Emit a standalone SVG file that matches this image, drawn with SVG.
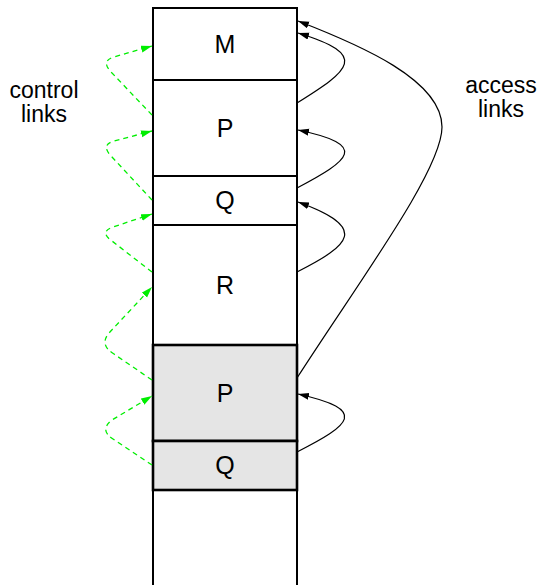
<svg xmlns="http://www.w3.org/2000/svg" width="542" height="585" viewBox="0 0 542 585">
  <style>
    .frame { fill: #ffffff; stroke: #000000; stroke-width: 2; }
    .cur { fill: #e5e5e5; stroke: #000000; stroke-width: 2.6; }
    .lbl { font-family: "Liberation Sans", Arial, sans-serif; font-size: 25px; fill: #000000; text-anchor: middle; }
    .side { font-family: "Liberation Sans", Arial, sans-serif; font-size: 23px; fill: #000000; text-anchor: middle; }
    .ctl { fill: none; stroke: #00ee00; stroke-width: 1.3; stroke-dasharray: 5 4; marker-end: url(#ga); }
    .acc { fill: none; stroke: #000000; stroke-width: 1.2; marker-end: url(#ba); }
  </style>
  <defs>
    <marker id="ga" markerUnits="userSpaceOnUse" markerWidth="12" markerHeight="8" refX="11" refY="3.5" orient="auto">
      <path d="M0,0 L11,3.5 L0,7 z" fill="#00ee00"/>
    </marker>
    <marker id="ba" markerUnits="userSpaceOnUse" markerWidth="12" markerHeight="8" refX="11" refY="3.5" orient="auto">
      <path d="M0,0 L11,3.5 L0,7 z" fill="#000000"/>
    </marker>
  </defs>
  <rect x="0" y="0" width="542" height="585" fill="#ffffff"/>

  <g id="frame-empty">
    <rect class="frame" x="153" y="490" width="144" height="120"/>
  </g>
  <g id="frame-M">
    <rect class="frame" x="153" y="8" width="144" height="72"/>
    <text class="lbl" x="225" y="53">M</text>
  </g>
  <g id="frame-P1">
    <rect class="frame" x="153" y="80" width="144" height="96"/>
    <text class="lbl" x="225" y="137">P</text>
  </g>
  <g id="frame-Q1">
    <rect class="frame" x="153" y="176" width="144" height="49"/>
    <text class="lbl" x="225" y="209">Q</text>
  </g>
  <g id="frame-R">
    <rect class="frame" x="153" y="225" width="144" height="120"/>
    <text class="lbl" x="225" y="294">R</text>
  </g>
  <g id="frame-P2">
    <rect class="cur" x="153" y="345" width="144" height="96"/>
    <text class="lbl" x="225" y="402">P</text>
  </g>
  <g id="frame-Q2">
    <rect class="cur" x="153" y="441" width="144" height="49"/>
    <text class="lbl" x="225" y="474">Q</text>
  </g>

  <g id="label-control">
    <text class="side" x="44" y="98">control</text>
    <text class="side" x="44" y="122">links</text>
  </g>
  <g id="label-access">
    <text class="side" x="501" y="93">access</text>
    <text class="side" x="501" y="117">links</text>
  </g>

  <g id="connectors">
    <path class="ctl" d="M152,115 L112,73 Q100,61 114,57 L152,46"/>
    <path class="ctl" d="M152,200 L112,157 Q100,145 114,141 L152,131"/>
    <path class="ctl" d="M152,272 L112,241 Q99,232 113,227 L152,214"/>
    <path class="ctl" d="M152,380 L114,354 Q99,345 109,333 L152,287"/>
    <path class="ctl" d="M152,465 L113,439 Q99,430 112,420 L152,396"/>

    <path class="acc" d="M297,103 C350,70 370,55 298,33"/>
    <path class="acc" d="M297,188 C350,160 370,145 298,130"/>
    <path class="acc" d="M297,272 C350,245 370,228 298,202"/>
    <path class="acc" d="M297,378 C360,280 442,170 442,127 C442,80 360,45 298,21"/>
    <path class="acc" d="M297,452 C350,425 370,410 298,394"/>
  </g>
</svg>
